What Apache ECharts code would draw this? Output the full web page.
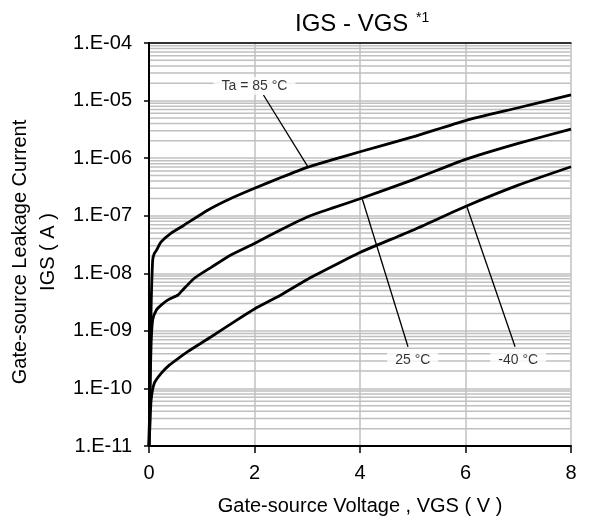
<!DOCTYPE html>
<html>
<head>
<meta charset="utf-8">
<script src="https://cdn.jsdelivr.net/npm/echarts@6/dist/echarts.min.js"></script>
<style>
html,body{margin:0;padding:0;background:#fff;}
#chart{width:593px;height:521px;}
</style>
</head>
<body>
<div id="chart"></div>
<script>
// curves (VGS in V, IGS in A)
var vgs85 = [0, 0.02, 0.04, 0.07, 0.1, 0.14, 0.23, 0.42, 0.67, 1.12, 1.5, 2, 2.5, 3, 3.5, 4, 5, 6, 7, 8];
var igs85 = [1e-11, 1.5e-10, 2.5e-9, 1.7e-8, 2.2e-8, 2.5e-8, 3.5e-8, 5.0e-8, 6.9e-8, 1.26e-7, 1.9e-7, 3.0e-7, 4.6e-7, 6.9e-7, 9.5e-7, 1.29e-6, 2.34e-6, 4.5e-6, 7.5e-6, 1.26e-5];
var vgs25 = [0, 0.02, 0.04, 0.07, 0.14, 0.23, 0.36, 0.55, 0.61, 0.86, 1.18, 1.56, 2, 2.5, 3, 3.5, 4, 5, 6, 7, 8];
var igs25 = [1e-11, 1e-10, 6e-10, 1.55e-9, 2.3e-9, 2.8e-9, 3.45e-9, 4.2e-9, 4.8e-9, 8.2e-9, 1.27e-8, 2.1e-8, 3.3e-8, 5.7e-8, 9.5e-8, 1.38e-7, 1.97e-7, 4.2e-7, 9.5e-7, 1.8e-6, 3.2e-6];
var vgsM40 = [0, 0.02, 0.04, 0.1, 0.23, 0.39, 0.55, 0.74, 1.18, 1.62, 2, 2.5, 3, 3.5, 4, 5, 6, 7, 8];
var igsM40 = [1e-11, 2.5e-11, 6.3e-11, 1.23e-10, 1.83e-10, 2.56e-10, 3.3e-10, 4.4e-10, 7.9e-10, 1.45e-9, 2.4e-9, 4.2e-9, 7.8e-9, 1.35e-8, 2.3e-8, 5.6e-8, 1.45e-7, 3.4e-7, 7.1e-7];

var yTickLabels = ['1.E-11', '1.E-10', '1.E-09', '1.E-08', '1.E-07', '1.E-06', '1.E-05', '1.E-04'];

// annotations
var annotText = ['Ta = 85 °C', '25 °C', '-40 °C'];
var annotX = [2.0, 5.0, 7.0];
var annotY = [1.81e-5, 3.12e-10, 3.12e-10];
var leader85 = [[2.17, 1.25e-5], [3.01, 7.1e-7]];
var leader25 = [[4.91, 5.3e-10], [4.045, 1.93e-7]];
var leaderM40 = [[6.94, 5.3e-10], [6.03, 1.40e-7]];

var FONT = '"Liberation Sans", Arial, sans-serif';

function zip(xs, ys) {
    var out = [];
    for (var i = 0; i < xs.length; i++) { out.push([xs[i], ys[i]]); }
    return out;
}

// minor log grid lines 2..9 in every decade, one broken line
// (stop just short of the frame so the black axis lines stay solid)
var minorGrid = [];
for (var e = -11; e < -4; e++) {
    for (var m = 2; m <= 9; m++) {
        var v = m * Math.pow(10, e);
        minorGrid.push([0.02, v], [7.985, v], [7.985, '-']);
    }
}

var labelData = [];
for (var k = 0; k < annotText.length; k++) {
    labelData.push({name: annotText[k], value: [annotX[k], annotY[k]]});
}

function curve(name, data) {
    return {
        name: name,
        type: 'line',
        data: data,
        showSymbol: false,
        smooth: 0.2,
        z: 3,
        lineStyle: {color: '#000', width: 2.8}
    };
}
function leader(data) {
    return {
        type: 'line',
        data: data,
        showSymbol: false,
        z: 3,
        lineStyle: {color: '#000', width: 1.3}
    };
}

var chart = echarts.init(document.getElementById('chart'));
var option = {
    animation: false,
    backgroundColor: '#fff',
    title: [
        {
            text: 'IGS - VGS',
            left: 295, top: 12, padding: 0,
            textStyle: {fontSize: 24, fontWeight: 'normal', color: '#000', fontFamily: FONT}
        },
        {
            text: '*1',
            left: 416, top: 11, padding: 0,
            textStyle: {fontSize: 14, fontWeight: 'normal', color: '#000', fontFamily: FONT}
        }
    ],
    graphic: [
        {
            type: 'text',
            x: 34, y: 252,
            rotation: Math.PI / 2,
            style: {
                text: 'Gate-source Leakage Current\nIGS ( A )',
                fontSize: 20, fontFamily: FONT, fill: '#000',
                align: 'center', verticalAlign: 'middle', lineHeight: 28
            }
        }
    ],
    grid: {left: 149, right: 22, top: 43, bottom: 75},
    xAxis: [
        {
            type: 'value',
            min: 0, max: 8, interval: 2,
            name: 'Gate-source Voltage , VGS ( V )',
            nameLocation: 'middle',
            nameGap: 50,
            nameTextStyle: {fontSize: 20, color: '#000', fontFamily: FONT},
            axisLine: {show: true, lineStyle: {color: '#000', width: 2}},
            axisTick: {show: true, length: 7, lineStyle: {color: '#000', width: 1.5}},
            axisLabel: {fontSize: 20, color: '#000', fontFamily: FONT, margin: 17},
            splitLine: {show: true, lineStyle: {color: '#c0c0c0', width: 1.5}}
        },
        {
            type: 'value', position: 'top',
            min: 0, max: 8,
            axisLine: {show: true, lineStyle: {color: '#000', width: 1.5}},
            axisTick: {show: false}, axisLabel: {show: false}, splitLine: {show: false}
        }
    ],
    yAxis: [
        {
            type: 'log',
            logBase: 10,
            min: 1e-11, max: 1e-4,
            splitNumber: 7,
            axisLine: {show: true, lineStyle: {color: '#000', width: 2}},
            axisTick: {show: true, length: 5, lineStyle: {color: '#000', width: 1.5}},
            axisLabel: {
                fontSize: 20, color: '#000', fontFamily: FONT, margin: 17,
                formatter: function (val) {
                    var ex = Math.round(Math.log(val) / Math.LN10);
                    return yTickLabels[ex + 11];
                }
            },
            splitLine: {show: true, lineStyle: {color: '#c0c0c0', width: 1.5}}
        },
        {
            type: 'log', position: 'right',
            min: 1e-11, max: 1e-4,
            axisLine: {show: true, lineStyle: {color: '#000', width: 1.5}},
            axisTick: {show: false}, axisLabel: {show: false}, splitLine: {show: false}
        }
    ],
    series: [
        {
            type: 'line',
            data: minorGrid,
            showSymbol: false,
            connectNulls: false,
            silent: true,
            z: 1,
            lineStyle: {color: '#c0c0c0', width: 1.5}
        },
        curve('85', zip(vgs85, igs85)),
        curve('25', zip(vgs25, igs25)),
        curve('-40', zip(vgsM40, igsM40)),
        leader(leader85),
        leader(leader25),
        leader(leaderM40),
        {
            type: 'scatter',
            data: labelData,
            symbolSize: 1,
            z: 5,
            itemStyle: {color: 'rgba(0,0,0,0)'},
            label: {
                show: true,
                position: 'inside',
                formatter: '{b}',
                color: '#000',
                fontSize: 14,
                fontFamily: FONT,
                backgroundColor: '#fff',
                padding: [2, 8]
            }
        }
    ]
};
chart.setOption(option);
</script>
</body>
</html>
